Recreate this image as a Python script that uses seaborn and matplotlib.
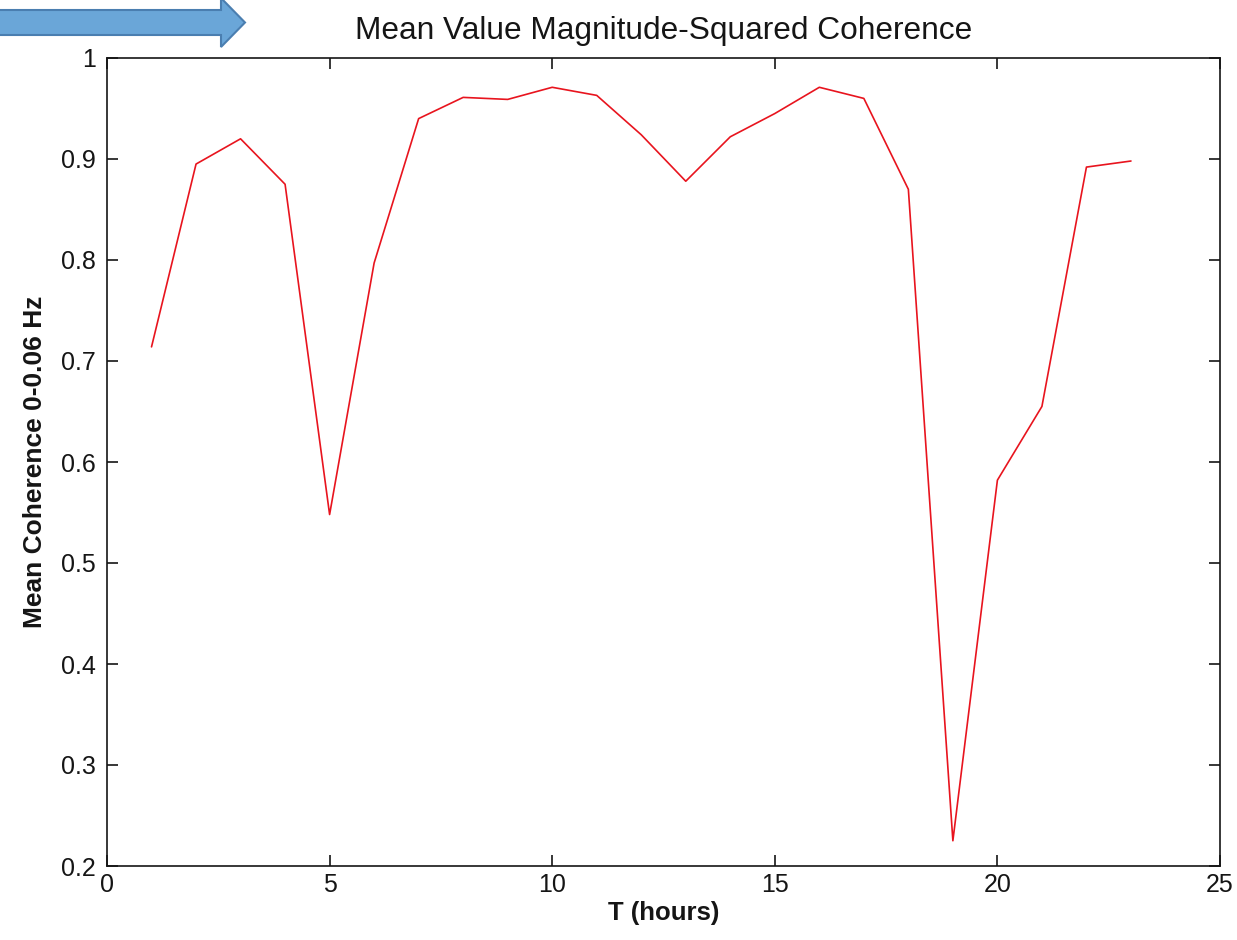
import matplotlib
matplotlib.use("Agg")
import matplotlib.pyplot as plt
from matplotlib.patches import FancyArrow
import pandas as pd
import seaborn as sns

# Hourly mean magnitude-squared coherence (0-0.06 Hz band)
hours = [1, 2, 3, 4, 5, 6, 7, 8, 9, 10, 11, 12, 13, 14, 15, 16, 17, 18, 19, 20, 21, 22, 23]
coherence = [0.714, 0.895, 0.920, 0.875, 0.548, 0.797, 0.940, 0.961, 0.959, 0.971,
             0.963, 0.924, 0.878, 0.922, 0.945, 0.971, 0.960, 0.870, 0.225, 0.582,
             0.655, 0.892, 0.898]
x_ticks = [0, 5, 10, 15, 20, 25]
y_ticks = [0.2, 0.3, 0.4, 0.5, 0.6, 0.7, 0.8, 0.9, 1.0]
y_tick_labels = ["0.2", "0.3", "0.4", "0.5", "0.6", "0.7", "0.8", "0.9", "1"]

sns.set_theme(style="ticks")
plt.rcParams["font.family"] = ["Liberation Sans", "DejaVu Sans"]

df = pd.DataFrame({"hour": hours, "coherence": coherence})

W, H = 1237, 940
fig = plt.figure(figsize=(W / 100, H / 100), dpi=100)
ax = fig.add_axes([107 / W, (H - 866) / H, (1220 - 107) / W, (866 - 58) / H])

sns.lineplot(data=df, x="hour", y="coherence", ax=ax, color="#e8141e", linewidth=1.2)

ax.set_xlim(0, 25)
ax.set_ylim(0.2, 1.0)
ax.set_xticks(x_ticks)
ax.set_xticklabels([str(t) for t in x_ticks])
ax.set_yticks(y_ticks)
ax.set_yticklabels(y_tick_labels)
ax.tick_params(direction="in", length=8, width=1.2, top=True, right=True,
               labelsize=18, colors="#151515")
ax.tick_params(axis="y", pad=8)
ax.tick_params(axis="x", pad=5)
for side in ["top", "right", "bottom", "left"]:
    ax.spines[side].set_visible(True)
    ax.spines[side].set_linewidth(1.2)
    ax.spines[side].set_color("#151515")

ax.set_xlabel("T (hours)", fontsize=18.5, fontweight="bold", labelpad=3, color="#151515")
ax.set_ylabel("Mean Coherence 0-0.06 Hz", fontsize=19, fontweight="bold", labelpad=10,
              color="#151515")
ax.set_title("Mean Value Magnitude-Squared Coherence", fontsize=22.8, pad=14, color="#151515")

# Blue pointer arrow in the upper-left corner (positions in inches)
arrow = FancyArrow(-0.2, (H - 22.5) / 100, 2.65, 0,
                   width=0.25, head_width=0.49, head_length=0.24,
                   length_includes_head=True, transform=fig.dpi_scale_trans,
                   facecolor="#6aa6d8", edgecolor="#4a7eb0", linewidth=1.5)
fig.patches.append(arrow)

fig.savefig("out.png", dpi=100)
